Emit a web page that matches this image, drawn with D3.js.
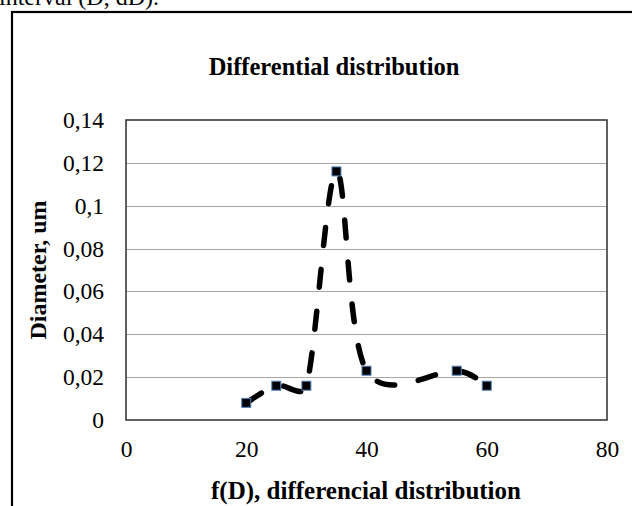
<!DOCTYPE html>
<html>
<head>
<meta charset="utf-8">
<script src="https://cdn.jsdelivr.net/npm/d3@7"></script>
<style>
  html, body { margin: 0; padding: 0; background: #fff; overflow: hidden; }
  svg { display: block; }
  text { font-family: "Liberation Serif", "Times New Roman", serif; fill: #000; }
</style>
</head>
<body>
<svg id="chart" width="632" height="506"></svg>
<script>
// Size class (x) and measured diameter (y)
const xValues = [20, 25, 30, 35, 40, 55, 60];
const yValues = [0.008, 0.016, 0.016, 0.116, 0.023, 0.023, 0.016];
const xTicks = [0, 20, 40, 60, 80];
const yTicks = [0, 0.02, 0.04, 0.06, 0.08, 0.1, 0.12, 0.14];

const chartTitle = "Differential distribution";
const xTitle = "f(D), differencial distribution";
const yTitle = "Diameter, um";
const captionAbove = "interval (D, dD).";

const svg = d3.select("#chart");
const plot = { left: 126, top: 120, right: 607, bottom: 420 };

const x = d3.scaleLinear().domain([0, 80]).range([plot.left, plot.right]);
const y = d3.scaleLinear().domain([0, 0.14]).range([plot.bottom, plot.top]);

const fmt = v => d3.format("~g")(+v.toFixed(2)).replace(".", ",");

// Spreadsheet-style smoothing: cubic Bezier segments whose tangent arms are
// 1/6 of the neighbour chord, capped at half of the segment length.
function SmoothCurve(context) { this._context = context; }
SmoothCurve.prototype = {
  areaStart() { this._line = 0; },
  areaEnd() { this._line = NaN; },
  lineStart() { this._pts = []; },
  point(px, py) { this._pts.push([+px, +py]); },
  lineEnd() {
    const p = this._pts, n = p.length, c = this._context;
    if (!n) return;
    const dist = (a, b) => Math.hypot(b[0] - a[0], b[1] - a[1]);
    c.moveTo(p[0][0], p[0][1]);
    for (let i = 0; i < n - 1; i++) {
      const P0 = p[Math.max(i - 1, 0)], P1 = p[i], P2 = p[i + 1], P3 = p[Math.min(i + 2, n - 1)];
      const d12 = dist(P1, P2), d02 = dist(P0, P2), d13 = dist(P1, P3);
      let f1 = 1 / 6, f2 = 1 / 6;
      if (d02 / 6 > d12 / 2) f1 = d12 / (2 * d02);
      if (d13 / 6 > d12 / 2) f2 = d12 / (2 * d13);
      c.bezierCurveTo(
        P1[0] + (P2[0] - P0[0]) * f1, P1[1] + (P2[1] - P0[1]) * f1,
        P2[0] - (P3[0] - P1[0]) * f2, P2[1] - (P3[1] - P1[1]) * f2,
        P2[0], P2[1]
      );
    }
  }
};
const curveSmooth = context => new SmoothCurve(context);

// Tail of the preceding paragraph line
svg.append("text")
  .attr("x", -1).attr("y", 5)
  .attr("font-size", 24)
  .text(captionAbove);

// Outer chart frame (runs past the right and bottom edges)
svg.append("rect")
  .attr("x", 12).attr("y", 12)
  .attr("width", 640).attr("height", 520)
  .attr("fill", "none")
  .attr("stroke", "#000")
  .attr("stroke-width", 2.2);

// Title
svg.append("text")
  .attr("x", 334).attr("y", 75)
  .attr("text-anchor", "middle")
  .attr("font-size", 24.5)
  .attr("font-weight", "bold")
  .text(chartTitle);

// Horizontal gridlines
svg.append("g")
  .selectAll("line")
  .data(yTicks.filter(t => t > 0 && t < 0.14))
  .join("line")
  .attr("x1", plot.left).attr("x2", plot.right)
  .attr("y1", d => Math.round(y(d)) + 0.5).attr("y2", d => Math.round(y(d)) + 0.5)
  .attr("stroke", "#a6a6a6")
  .attr("stroke-width", 1.2);

// Plot area border
svg.append("rect")
  .attr("x", plot.left).attr("y", plot.top)
  .attr("width", plot.right - plot.left).attr("height", plot.bottom - plot.top)
  .attr("fill", "none")
  .attr("stroke", "#3a3a3a")
  .attr("stroke-width", 1.6);

// Y axis tick labels
const yAxis = d3.axisLeft(y).tickValues(yTicks).tickFormat(fmt).tickSize(0).tickPadding(22);
const gy = svg.append("g").attr("transform", `translate(${plot.left},0)`).call(yAxis);
gy.select(".domain").remove();
gy.selectAll("text")
  .attr("font-family", "'Liberation Serif', 'Times New Roman', serif")
  .attr("font-size", 23.5)
  .attr("fill", "#000");

// X axis tick labels
const xAxis = d3.axisBottom(x).tickValues(xTicks).tickFormat(d3.format("d")).tickSize(0).tickPadding(20);
const gx = svg.append("g").attr("transform", `translate(0,${plot.bottom})`).call(xAxis);
gx.select(".domain").remove();
gx.selectAll("text")
  .attr("font-family", "'Liberation Serif', 'Times New Roman', serif")
  .attr("font-size", 23.5)
  .attr("fill", "#000");

// Axis titles
svg.append("text")
  .attr("x", 366).attr("y", 499)
  .attr("text-anchor", "middle")
  .attr("font-size", 25)
  .attr("font-weight", "bold")
  .text(xTitle);

svg.append("text")
  .attr("transform", `translate(46,${(plot.top + plot.bottom) / 2}) rotate(-90)`)
  .attr("text-anchor", "middle")
  .attr("font-size", 24)
  .attr("font-weight", "bold")
  .text(yTitle);

// Smoothed dashed series line
const points = xValues.map((v, i) => [v, yValues[i]]);
const line = d3.line()
  .x(d => x(d[0]))
  .y(d => y(d[1]))
  .curve(curveSmooth);

svg.append("path")
  .datum(points)
  .attr("d", line)
  .attr("fill", "none")
  .attr("stroke", "#000")
  .attr("stroke-width", 5.5)
  .attr("stroke-linecap", "round")
  .attr("stroke-dasharray", "18,24");

// Square markers
svg.append("g")
  .selectAll("rect")
  .data(points)
  .join("rect")
  .attr("x", d => x(d[0]) - 4.5)
  .attr("y", d => y(d[1]) - 4.5)
  .attr("width", 9).attr("height", 9)
  .attr("fill", "#000")
  .attr("stroke", "#4f81bd")
  .attr("stroke-width", 1);
</script>
</body>
</html>
